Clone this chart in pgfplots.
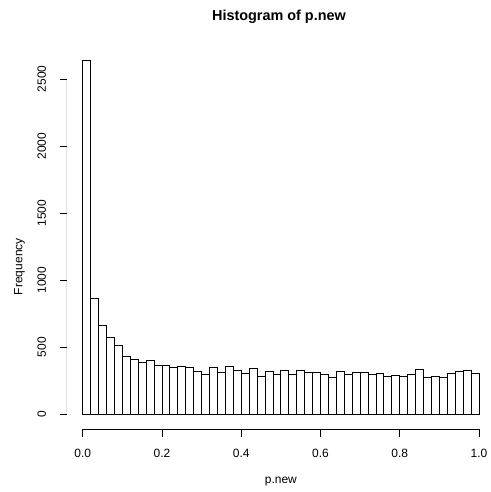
\documentclass[border=0pt]{standalone}
\usepackage{pgfplots}
\usepackage{pgfplotstable}
\usepackage{fontspec}
\setmainfont{Liberation Sans}
\pgfplotsset{compat=1.18}

% Histogram counts: left edge of each 0.02-wide bin and its frequency
% (the final row only closes the last interval)
\pgfplotstableread{
left count
0.00 2642
0.02 865
0.04 666
0.06 574
0.08 514
0.10 435
0.12 413
0.14 388
0.16 403
0.18 365
0.20 365
0.22 348
0.24 360
0.26 348
0.28 321
0.30 296
0.32 348
0.34 313
0.36 355
0.38 326
0.40 306
0.42 341
0.44 281
0.46 321
0.48 301
0.50 328
0.52 296
0.54 328
0.56 313
0.58 313
0.60 296
0.62 278
0.64 321
0.66 298
0.68 313
0.70 313
0.72 298
0.74 308
0.76 283
0.78 291
0.80 283
0.82 298
0.84 333
0.86 273
0.88 286
0.90 278
0.92 308
0.94 321
0.96 331
0.98 303
1.00 303
}\histdata

\begin{document}
\begin{tikzpicture}[x=1pt,y=1pt]
\path[use as bounding box] (0,0) rectangle (490,492);
\begin{axis}[
  at={(66.85pt,62.5pt)}, anchor=south west,
  scale only axis, width=428pt, height=383.5pt,
  xmin=-0.04, xmax=1.04, ymin=-113.1, ymax=2746,
  axis x line*=bottom, axis y line*=left,
  axis line style={draw=none},
  tick align=outside,
  major tick length=7pt,
  tick style={black, line width=0.8pt},
  xtick={0,0.2,0.4,0.6,0.8,1.0},
  xticklabels={0.0,0.2,0.4,0.6,0.8,1.0},
  ytick={0,500,1000,1500,2000,2500},
  yticklabels={0,500,1000,1500,2000,2500},
  xticklabel style={anchor=base, inner sep=0pt, yshift=-20.5pt},
  yticklabel style={xshift=-14pt, rotate=90, anchor=base, inner sep=0pt},
  every tick label/.append style={font=\fontsize{12}{14}\selectfont},
  title={Histogram of p.new},
  title style={at={(axis description cs:0.4956,1.052)}, anchor=base,
    inner sep=0pt, font=\fontsize{14.4}{17}\selectfont\bfseries},
  xlabel={p.new},
  xlabel style={at={(axis description cs:0.5,-0.1421)}, anchor=base,
    inner sep=0pt, font=\fontsize{12}{14}\selectfont},
  ylabel={Frequency},
  ylabel style={at={(axis description cs:-0.1041,0.4246)}, rotate=0,
    anchor=base, inner sep=0pt, font=\fontsize{12}{14}\selectfont},
]
\addplot[ybar interval, fill=white, draw=black, line width=0.8pt]
  table[x=left, y=count] {\histdata};
% axis lines spanning only the labelled ranges
\draw[black, line width=0.8pt] (axis cs:0,-113.1) -- (axis cs:1,-113.1);
\draw[black, line width=0.8pt] (axis cs:-0.04,0) -- (axis cs:-0.04,2500);
\end{axis}
\end{tikzpicture}
\end{document}
